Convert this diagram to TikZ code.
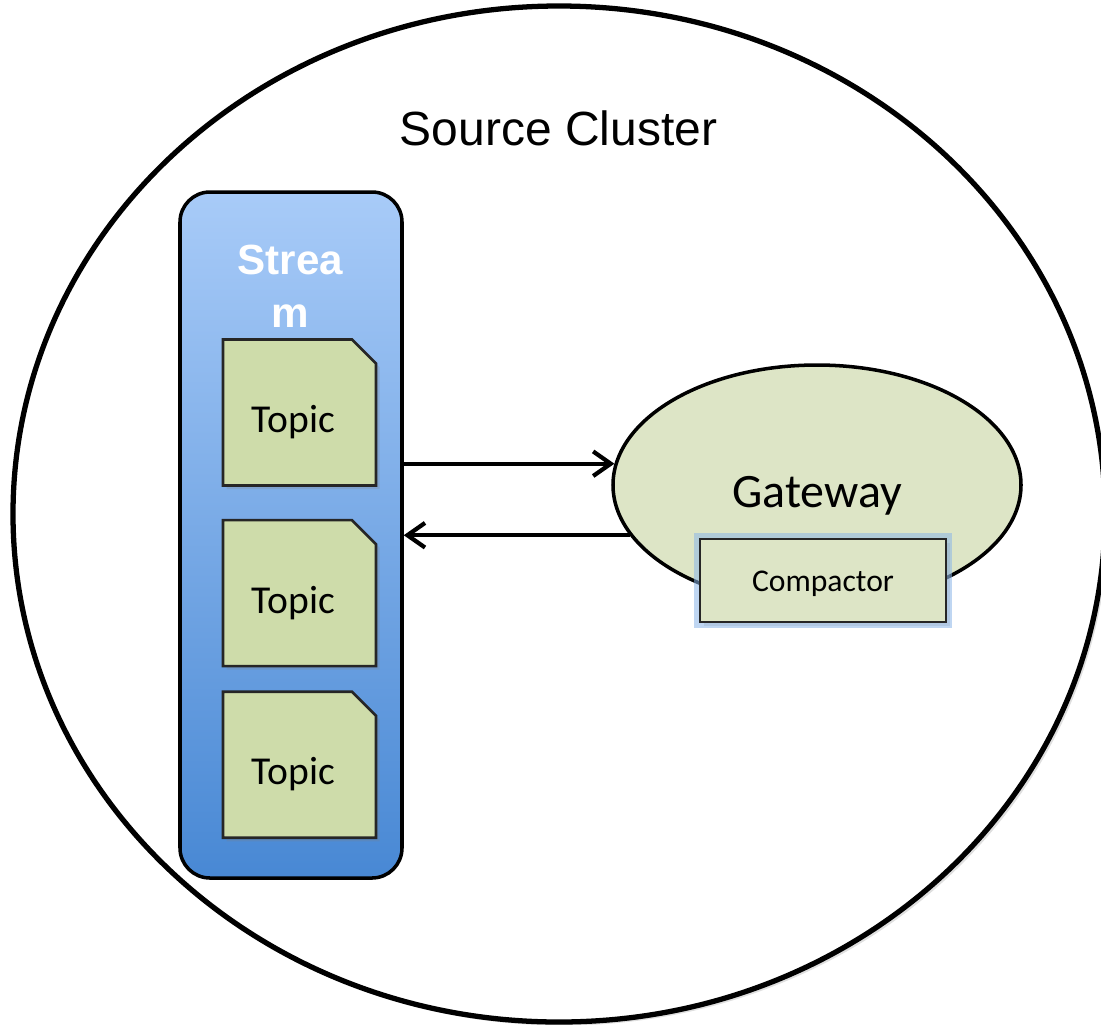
\documentclass[tikz,border=0pt]{standalone}
\usepackage{fontspec}
\setmainfont{Carlito}
\newfontfamily\arialfont{Liberation Sans}
\usepackage{xcolor}
\usetikzlibrary{arrows.meta,positioning,shapes.geometric,shapes.misc,shadows}
\definecolor{topicgreen}{RGB}{206,220,170}
\definecolor{gwgreen}{RGB}{221,229,198}
\definecolor{streamtop}{RGB}{168,203,248}
\definecolor{streambot}{RGB}{72,136,212}
\definecolor{glowblue}{RGB}{140,182,232}

\begin{document}
\begin{tikzpicture}[node distance=0.64cm,
    softshadow/.style={drop shadow={opacity=0.25,shadow xshift=2pt,shadow yshift=-2pt}},
    topicbox/.style={chamfered rectangle,chamfered rectangle corners=north east,
      chamfered rectangle xsep=0.24cm,chamfered rectangle ysep=0.24cm,
      draw=black!85,line width=1.5pt,fill=topicgreen,softshadow,
      minimum width=3.06cm,minimum height=2.92cm,inner sep=0pt,
      text height=28pt,text depth=5pt,font=\fontsize{22.5}{26}\selectfont},
    flow/.style={line width=2.4pt,-{Straight Barb[length=10pt,width=14pt]}}]
  \useasboundingbox (0,0) rectangle (22.02,-20.48);
  \node[ellipse,draw,line width=3pt,fill=white,softshadow,
        minimum width=21.84cm,minimum height=20.32cm] (cluster) at (11.18,-10.28) {};
  \node[anchor=base,font=\arialfont\fontsize{27.3}{32}\selectfont] (title)
        at (11.17,-2.9) {Source Cluster};

  \node[draw,line width=2pt,rounded corners=0.6cm,top color=streamtop,
        bottom color=streambot,minimum width=4.44cm,minimum height=13.72cm]
        (stream) at (5.82,-10.70) {};
  \node[anchor=north,inner sep=0pt,align=center,text=white,
        font=\arialfont\bfseries\fontsize{24}{30}\selectfont]
        (streamlabel) at (5.81,-4.9) {Strea\\m};
  \node[topicbox] (topic1) at (5.99,-8.25) {\hspace*{-7pt}Topic};
  \node[topicbox,below=0.64cm of topic1] (topic2) {\hspace*{-7pt}Topic};
  \node[topicbox,below=0.46cm of topic2] (topic3) {\hspace*{-7pt}Topic};

  \node[ellipse,draw,line width=2pt,fill=gwgreen,minimum width=8.16cm,
        minimum height=4.8cm,inner sep=0pt,text height=31pt,text depth=5pt,
        font=\fontsize{27.3}{32}\selectfont] (gateway) at (16.34,-9.70) {Gateway};
  \node[draw=black!85,line width=1.5pt,fill=gwgreen,softshadow,
        preaction={draw=glowblue,line width=7pt,opacity=0.55},
        minimum width=4.92cm,minimum height=1.66cm,text height=16pt,text depth=4pt,
        font=\fontsize{18}{22}\selectfont] (compactor) at (16.46,-11.61) {Compactor};

  \draw[flow] (stream.east |- gateway.174) -- (gateway.174);
  \draw[flow] (gateway.195) -- (stream.east |- gateway.195);
\end{tikzpicture}
\end{document}
